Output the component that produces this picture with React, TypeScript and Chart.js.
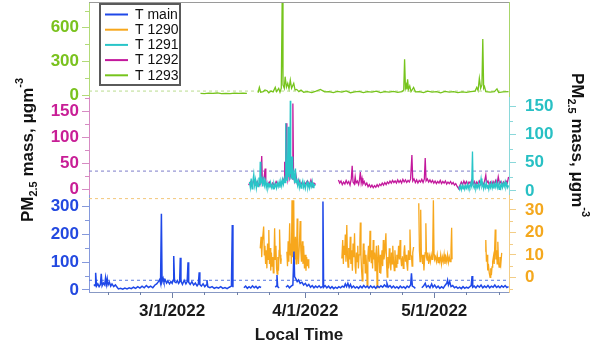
import React, { useEffect, useRef } from 'react';
import { Chart, registerables } from 'chart.js';

Chart.register(...registerables);

const FONT = "'Liberation Sans', Arial, Helvetica, sans-serif";

// x values are days counted from 3/1/2022
const xMin = -19.35;
const xMax = 78.4;
const majorDays = [0, 31, 61];
const majorLabels = ['3/1/2022', '4/1/2022', '5/1/2022'];
const minorDays = [-15, -7.5, 7.5, 15, 22.5, 38.5, 46, 53.5, 68.5, 76];
const threshold = 35;

const seriesLabels = ['T main', 'T 1290', 'T 1291', 'T 1292', 'T 1293'];

// y tick values
const greenMajor = [0, 300, 600];
const greenMinor = [150, 450, 750];
const magentaMajor = [0, 50, 100, 150];
const magentaMinor = [25, 75, 125, 175];
const blueMajor = [0, 100, 200, 300];
const blueMinor = [50, 150, 250];
const cyanMajor = [0, 50, 100, 150];
const cyanMinor = [25, 75, 125];
const orangeMajor = [0, 10, 20, 30];
const orangeMinor = [-5, 5, 15, 25, 35];

type Pt = [number, number | null];

const tMain: Pt[] = [
  [-18.2, 20], [-17.95, 15], [-17.8, 62], [-17.6, 14], [-17.3, 22], [-17.0, 12], [-16.7, 20], [-16.5, 58], [-16.3, 15],
  [-16.0, 25], [-15.7, 18], [-15.5, 44], [-15.3, 20], [-15.1, 40], [-14.9, 18], [-14.6, 28], [-14.3, 14], [-14.0, 22],
  [-13.6, 12], [-13.2, 18], [-12.8, 10], [-12.5, 4], [-12.0, 6], [-11.5, 3], [-11.0, 7], [-10.5, 4], [-10.0, 8], [-9.5, 5],
  [-9.0, 10], [-8.5, 6], [-8.0, 12], [-7.5, 7], [-7.0, 14], [-6.5, 8], [-6.0, 16], [-5.5, 9], [-5.0, 14], [-4.5, 8],
  [-4.0, 18], [-3.6, 22], [-3.2, 30], [-2.9, 38], [-2.7, 25], [-2.5, 274], [-2.35, 30], [-2.1, 42], [-1.9, 28], [-1.6, 36],
  [-1.3, 25], [-1.0, 32], [-0.6, 22], [-0.3, 30], [0.0, 24], [0.2, 35], [0.37, 122], [0.55, 30], [0.9, 26], [1.2, 34],
  [1.5, 24], [1.75, 30], [1.9, 116], [2.05, 32], [2.4, 20], [2.8, 35], [3.2, 22], [3.5, 30], [3.7, 100], [3.85, 28],
  [4.2, 20], [4.6, 30], [5.0, 18], [5.4, 25], [5.8, 15], [6.1, 22], [6.3, 64], [6.45, 20], [6.8, 14], [7.2, 22], [7.6, 12],
  [7.9, 18], [8.1, 36], [8.3, 12], [8.8, 8], [9.3, 12], [9.8, 6], [10.3, 10], [10.8, 7], [11.3, 12], [11.8, 6], [12.3, 9],
  [12.8, 5], [13.3, 10], [13.8, 14], [14.0, 234], [14.15, 10], [14.3, null],
  [16.7, 8], [17.1, 14], [17.5, 6], [17.9, 12], [18.3, 7], [18.7, 15], [19.1, 8], [19.5, 13], [19.9, 6], [20.3, 12],
  [20.7, 9], [20.8, null],
  [24.0, 10], [24.25, 14], [24.4, 54], [24.55, 12], [24.9, 8], [25.0, null],
  [26.5, 10], [26.9, 16], [27.3, 8], [27.7, 14], [28.1, 18], [28.35, 138], [28.5, 48], [28.8, 40], [29.1, 30], [29.4, 36],
  [29.8, 24], [30.2, 28], [30.6, 18], [31.0, 24], [31.4, 14], [31.8, 20], [32.2, 10], [32.6, 16], [33.0, 8], [33.4, 14],
  [33.8, 9], [34.2, 15], [34.6, 8], [34.9, 12], [35.1, 318], [35.25, 10], [35.6, 16], [36.0, 8], [36.4, 14], [36.8, 6],
  [37.2, 12], [37.6, 5], [38.0, 10], [38.4, 6], [38.8, 12], [39.2, 8], [39.6, 14], [40.0, 10], [40.3, 22], [40.6, 12],
  [40.9, 24], [41.2, 10], [41.5, 20], [41.8, 8], [42.2, 14], [42.6, 7], [43.0, 12], [43.4, 6], [43.8, 14], [44.2, 8],
  [44.6, 16], [45.0, 9], [45.4, 14], [45.8, 7], [46.2, 15], [46.6, 8], [47.0, 13], [47.4, 6], [47.8, 14], [48.2, 9],
  [48.6, 15], [49.0, 10], [49.4, 18], [49.8, 12], [50.0, 24], [50.3, 10], [50.7, 16], [51.1, 8], [51.5, 14], [51.9, 7],
  [52.3, 12], [52.7, 6], [53.1, 14], [53.5, 8], [53.9, 12], [54.3, 6], [54.7, 14], [55.1, 9], [55.5, 18], [55.7, 60],
  [55.9, 14], [56.3, 10], [56.6, 6], [56.7, null],
  [58.1, 8], [58.5, 14], [58.9, 24], [59.2, 10], [59.6, 16], [60.0, 8], [60.4, 22], [60.7, 10], [61.1, 18], [61.5, 8],
  [61.9, 14], [62.3, 6], [62.7, 12], [63.1, 7], [63.5, 16], [63.9, 24], [64.1, 36], [64.3, 18], [64.6, 30], [64.9, 12],
  [65.3, 16], [65.7, 8], [66.1, 12], [66.5, 6], [66.9, 10], [67.3, 5], [67.7, 12], [68.1, 6], [68.5, 10], [68.9, 7],
  [69.3, 12], [69.6, 16], [69.8, 50], [69.95, 10], [70.3, 14], [70.7, 8], [71.1, 16], [71.5, 10], [71.9, 18], [72.3, 8],
  [72.7, 14], [73.1, 9], [73.5, 16], [73.9, 8], [74.3, 14], [74.7, 10], [75.1, 18], [75.5, 9], [75.9, 14], [76.3, 8],
  [76.7, 15], [77.1, 10], [77.5, 16], [77.9, 9], [78.3, 12],
];

const t1290: Pt[] = [
  [20.5, 12.9], [20.7, 18], [20.85, 9], [21.0, 16], [21.3, 22.6], [21.45, 10], [21.6, 14], [21.75, 6], [21.9, 12],
  [22.05, 4], [22.2, 15], [22.35, 8], [22.5, 21], [22.65, 6], [22.8, 13], [22.95, 3], [23.1, 11], [23.25, 5], [23.4, 9],
  [23.55, 2], [23.7, 7], [23.85, 21.8], [24.0, 8], [24.15, 14], [24.3, 4], [24.45, 1.5], [24.6, 9], [24.75, 3], [24.9, 12],
  [25.0, 21.3], [25.15, 10], [25.3, 6], [25.4, 8.4], [25.5, null],
  [26.7, 11.4], [26.85, 5], [27.0, 16], [27.15, 7], [27.35, 24], [27.5, 10], [27.6, 15], [27.75, 6], [27.9, 34.3],
  [28.0, 14], [28.1, 9], [28.2, 20], [28.3, 34.3], [28.4, 12], [28.55, 8], [28.7, 18], [28.85, 6], [29.0, 14], [29.1, 26.2],
  [29.25, 10], [29.4, 6], [29.6, 14], [29.8, 25], [29.95, 12], [30.1, 7], [30.3, 16], [30.45, 6], [30.6, 14], [30.8, 4],
  [31.0, 10], [31.15, 3], [31.3, 9], [31.5, 5], [31.65, 8], [31.8, 4], [31.9, null],
  [39.5, 8.4], [39.7, 16.6], [39.85, 6], [40.0, 14], [40.15, 10], [40.3, 19], [40.45, 7], [40.65, 23.3], [40.8, 9],
  [40.95, 4.6], [41.1, 13], [41.3, 8], [41.45, 18], [41.6, 6], [41.8, 12], [41.95, 3], [42.1, 15], [42.3, 9], [42.45, 19.6],
  [42.6, 5], [42.75, 1.6], [42.9, 11], [43.05, 7], [43.2, 14], [43.35, 4], [43.5, 10], [43.7, 16], [43.8, 24.4], [43.95, 9.4],
  [44.1, 3], [44.25, -1.5], [44.4, 8], [44.5, 15], [44.65, 6], [44.8, 12], [44.95, 2], [45.1, 10], [45.25, 5], [45.4, -3.8],
  [45.55, 9], [45.7, 14], [45.9, 7], [46.05, 20.7], [46.2, 10], [46.35, 6.6], [46.5, 12], [46.65, 4], [46.8, 16.6], [46.95, 8],
  [47.1, 11], [47.25, 3], [47.4, 9], [47.55, 14], [47.7, -4.5], [47.85, 6], [48.0, 14.3], [48.15, 8], [48.3, 2], [48.45, 10],
  [48.55, 1.6], [48.7, 7], [48.85, 12], [49.0, 5], [49.15, 16.6], [49.3, 8], [49.5, 11], [49.75, 19.6], [49.9, 6], [50.05, 0.1],
  [50.2, 9], [50.35, 4], [50.55, 12.9], [50.7, 7], [50.9, 3.1], [51.05, 11], [51.2, 6], [51.35, 14], [51.5, 8], [51.7, 3],
  [51.85, 12], [52.0, 7], [52.15, 4.6], [52.3, 10], [52.5, 6], [52.7, 14], [52.9, 8], [53.05, 16.6], [53.2, 9], [53.4, 5],
  [53.6, 9.4], [53.8, 4], [53.95, 11], [54.1, 14.3], [54.3, 7], [54.5, 10], [54.6, 6.6], [54.8, 3], [55.0, 12], [55.2, 8],
  [55.35, 21.3], [55.5, 10], [55.7, 9.4], [55.85, 5], [56.0, 11], [56.2, 13.5], [56.3, null],
  [57.4, 32.9], [57.55, 12], [57.7, 7], [57.85, 30], [58.0, 10], [58.15, 9.4], [58.3, 6], [58.45, 10], [58.6, 3.1],
  [58.75, 8], [58.9, 11], [59.05, 24], [59.2, 9], [59.35, 7.7], [59.5, 11], [59.7, 6], [59.9, 9.4], [60.1, 7], [60.3, 10],
  [60.5, 8], [60.65, 12], [60.8, 34.3], [60.95, 10.2], [61.1, 8], [61.3, 9], [61.5, 7], [61.7, 10], [61.9, 6.6], [62.1, 9],
  [62.3, 7], [62.5, 10], [62.7, 6], [62.9, 9], [63.1, 7], [63.3, 10.2], [63.5, 6], [63.7, 9], [63.9, 7], [64.1, 10],
  [64.3, 6.6], [64.5, 9], [64.7, 7], [64.9, 12], [65.05, 22], [65.15, 8], [65.25, null],
  [72.9, 11.4], [73.0, 16.6], [73.15, 7], [73.3, 10], [73.45, 3.1], [73.6, 6], [73.8, 2], [74.0, 0], [74.15, 4], [74.3, 1],
  [74.45, 4.6], [74.6, 7], [74.8, 9.4], [74.95, 6], [75.2, 21.3], [75.35, 8], [75.5, 12], [75.65, 6], [75.8, 15.8],
  [75.95, 7], [76.1, 4.6], [76.3, 9], [76.5, 6], [76.7, 10.9],
];

const t1291: Pt[] = [
  [18.0, 16], [18.2, 6], [18.4, 22], [18.6, 4], [18.8, 18], [19.0, 30], [19.2, 10], [19.4, 20], [19.6, 5], [19.8, 16],
  [20.0, 8], [20.2, 24], [20.4, 12], [20.5, 52], [20.65, 15], [20.9, 22], [21.1, 8], [21.3, 25], [21.5, 10], [21.7, 18],
  [21.9, 6], [22.1, 14], [22.3, 5], [22.5, 12], [22.7, 8], [22.9, 15], [23.1, 6], [23.3, 11], [23.5, 4], [23.7, 13],
  [23.9, 7], [24.1, 12], [24.3, 5], [24.5, 14], [24.7, 8], [24.9, 16], [25.1, 6], [25.3, 18], [25.5, 9], [25.7, 20],
  [25.9, 12], [26.1, 22], [26.3, 15], [26.45, 120], [26.6, 30], [26.8, 18], [27.0, 114], [27.15, 25], [27.3, 46],
  [27.4, 20], [27.5, 160], [27.6, 30], [27.7, 51], [27.8, 22], [27.9, 61], [28.05, 20], [28.3, 32], [28.5, 14], [28.7, 40],
  [28.85, 15], [29.0, 22], [29.2, 10], [29.4, 18], [29.6, 6], [29.8, 15], [30.0, 5], [30.2, 12], [30.4, 18], [30.6, 7],
  [30.8, 14], [31.0, 4], [31.2, 11], [31.4, 16], [31.6, 6], [31.8, 13], [32.0, 5], [32.2, 14], [32.4, 8], [32.6, 17],
  [32.8, 6], [33.0, 12], [33.3, 9], [33.4, null],
  [66.7, 8], [66.9, 3], [67.1, 9], [67.3, 2], [67.5, 10], [67.7, 4], [67.9, 11], [68.1, 3], [68.3, 9], [68.5, 5],
  [68.7, 12], [68.9, 4], [69.1, 10], [69.3, 6], [69.5, 13], [69.7, 8], [69.9, 70], [70.05, 10], [70.3, 5], [70.5, 12],
  [70.7, 4], [70.9, 10], [71.1, 6], [71.3, 14], [71.5, 5], [71.7, 11], [71.9, 22], [72.1, 8], [72.3, 13], [72.5, 4],
  [72.7, 12], [72.9, 6], [73.1, 15], [73.3, 5], [73.5, 11], [73.7, 3], [73.9, 12], [74.1, 6], [74.3, 14], [74.5, 5],
  [74.7, 12], [74.9, 4], [75.1, 13], [75.3, 7], [75.5, 16], [75.7, 6], [75.9, 12], [76.1, 3], [76.3, 11], [76.5, 5],
  [76.7, 14], [76.9, 6], [77.1, 13], [77.3, 8], [77.5, 16], [77.7, 7], [77.9, 13], [78.1, 6], [78.3, 10],
];

const t1292: Pt[] = [
  [17.8, 8], [18.2, 14], [18.6, 6], [19.0, 18], [19.4, 9], [19.8, 15], [20.2, 7], [20.6, 12], [20.85, 64], [21.0, 10],
  [21.3, 16], [21.65, 40], [21.8, 12], [22.2, 8], [22.6, 14], [23.0, 6], [23.4, 12], [23.8, 7], [24.2, 15], [24.6, 9],
  [25.0, 13], [25.4, 8], [25.8, 20], [26.1, 14], [26.2, 53], [26.35, 15], [26.55, 127], [26.7, 30], [26.9, 18], [27.2, 40],
  [27.4, 22], [27.7, 30], [27.95, 20], [28.1, 165], [28.25, 25], [28.5, 15], [28.8, 28], [29.1, 12], [29.5, 18], [29.9, 8],
  [30.3, 14], [30.7, 6], [31.1, 12], [31.5, 16], [31.9, 8], [32.3, 18], [32.7, 6], [33.0, 12], [33.4, 9], [33.5, null],
  [38.7, 18], [39.0, 12], [39.3, 16], [39.6, 9], [39.9, 14], [40.2, 10], [40.5, 17], [40.8, 11], [41.1, 15], [41.4, 8],
  [41.7, 20], [41.9, 45], [42.1, 14], [42.4, 10], [42.6, 24], [42.8, 12], [43.1, 16], [43.4, 9], [43.6, 18], [43.8, 33],
  [44.0, 12], [44.2, 21], [44.4, 10], [44.7, 15], [45.0, 8], [45.3, 12], [45.6, 5], [45.9, 9], [46.2, 4], [46.5, 8],
  [46.8, 3], [47.1, 7], [47.4, 4], [47.7, 9], [48.0, 5], [48.3, 10], [48.6, 7], [48.9, 12], [49.2, 8], [49.5, 13],
  [49.8, 9], [50.1, 14], [50.4, 11], [50.7, 16], [51.0, 12], [51.3, 17], [51.6, 13], [51.9, 16], [52.2, 12], [52.5, 18],
  [52.8, 13], [53.1, 17], [53.4, 12], [53.7, 19], [54.0, 14], [54.3, 18], [54.6, 13], [54.9, 17], [55.2, 14], [55.5, 20],
  [55.8, 66], [56.0, 16], [56.3, 20], [56.6, 13], [56.9, 18], [57.2, 12], [57.5, 17], [57.8, 14], [58.1, 19], [58.4, 13],
  [58.7, 20], [58.9, 60], [59.1, 16], [59.4, 20], [59.7, 14], [60.0, 18], [60.3, 13], [60.6, 17], [60.9, 12], [61.2, 16],
  [61.5, 11], [61.8, 15], [62.1, 12], [62.4, 17], [62.7, 11], [63.0, 15], [63.3, 12], [63.6, 16], [63.9, 10], [64.2, 14],
  [64.5, 11], [64.8, 15], [65.1, 10], [65.4, 13], [65.7, 8], [66.0, 11], [66.3, 6], [66.7, 1], [67.0, 8], [67.3, 14],
  [67.6, 9], [67.9, 16], [68.2, 10], [68.5, 15], [68.8, 9], [69.1, 14], [69.4, 11], [69.7, 17], [70.0, 10], [70.3, 15],
  [70.6, 8], [70.9, 14], [71.2, 10], [71.5, 16], [71.8, 9], [72.1, 13], [72.4, 8], [72.7, 15], [73.0, 27], [73.2, 12],
  [73.5, 16], [73.8, 9], [74.1, 14], [74.4, 8], [74.7, 15], [75.0, 10], [75.3, 17], [75.6, 9], [75.9, 24], [76.2, 11],
  [76.5, 15], [76.8, 8], [77.1, 14], [77.4, 10], [77.7, 16], [78.0, 12], [78.3, 24],
];

const t1293: Pt[] = [
  [6.6, 15], [7.5, 12], [8.5, 16], [9.5, 14], [10.5, 18], [11.5, 13], [12.5, 15], [13.5, 12], [14.5, 17], [15.5, 14],
  [16.5, 16], [17.4, 15], [17.5, null],
  [20.0, 20], [20.3, 68], [20.6, 25], [21.2, 30], [21.6, 45], [22.1, 38], [22.5, 20], [23.0, 35], [23.5, 28], [24.0, 68],
  [24.3, 30], [24.8, 58], [25.1, 25], [25.4, 60], [25.6, 820], [25.8, 90], [26.1, 60], [26.3, 163], [26.6, 70], [26.9, 104],
  [27.2, 55], [27.5, 133], [27.8, 60], [28.3, 104], [28.6, 45], [29.0, 50], [29.5, 30], [30.0, 44], [30.6, 25], [31.5, 30],
  [32.5, 22], [33.5, 35], [34.5, 50], [35.5, 28], [36.5, 30], [37.5, 22], [38.5, 32], [39.5, 25], [40.5, 36], [41.5, 20],
  [42.5, 28], [43.5, 33], [44.5, 22], [45.5, 30], [46.5, 25], [47.5, 35], [48.5, 22], [49.5, 30], [50.5, 26], [51.5, 32],
  [52.5, 24], [53.5, 30], [53.9, 45], [54.1, 318], [54.3, 60], [54.5, 89], [54.65, 50], [54.8, 140], [55.0, 50], [55.3, 80],
  [55.6, 30], [56.2, 68], [56.6, 28], [57.5, 30], [58.5, 22], [59.5, 35], [60.5, 25], [61.5, 30], [62.5, 20], [63.5, 32],
  [64.5, 25], [65.5, 30], [66.5, 22], [67.5, 28], [68.5, 24], [69.5, 30], [70.5, 35], [70.9, 68], [71.2, 40], [71.5, 148],
  [71.8, 60], [72.1, 90], [72.3, 498], [72.5, 60], [72.7, 75], [73.0, 30], [74.0, 25], [75.0, 30], [75.6, 55], [76.0, 22],
  [77.0, 28], [78.3, 30],
];

const seriesData: Pt[][] = [tMain, t1290, t1291, t1292, t1293];
const seriesColors = ['#1f48e8', '#f7a71c', '#29c5c8', '#c3189c', '#76c41c'];
const seriesAxes = ['yB', 'yO', 'yC', 'yM', 'yG'];

const minorByScale: Record<string, number[]> = {
  yG: greenMinor, yM: magentaMinor, yB: blueMinor, yC: cyanMinor, yO: orangeMinor, x: minorDays,
};

function yAxis(position: 'left' | 'right', stackWeight: number, weight: number, min: number, max: number,
  majors: number[], labelColor: string, lineColor: string, showTicks = true) {
  return {
    type: 'linear',
    position,
    stack: position === 'left' ? 'L' : 'R',
    stackWeight,
    weight,
    min,
    max,
    afterBuildTicks: (s: any) => { s.ticks = majors.map((v) => ({ value: v })); },
    afterFit: (s: any) => {
      s.width = position === 'left' ? 89 : 86;
      s.paddingTop = 0;
      s.paddingBottom = 0;
      s.paddingLeft = 0;
      s.paddingRight = 0;
    },
    ticks: {
      display: showTicks,
      autoSkip: false,
      callback: (v: any) => String(v),
      font: { family: FONT, size: 17, weight: 'bold' },
      color: labelColor,
      padding: position === 'left' ? 3 : 9,
    },
    grid: { display: showTicks, drawOnChartArea: false, tickLength: 7, color: lineColor, lineWidth: 1 },
    border: { display: true, color: lineColor, width: 1 },
  };
}

function drawTitle(ctx: CanvasRenderingContext2D, cx: number, cy: number, angle: number) {
  const big = `bold 17px ${FONT}`;
  const small = `bold 11px ${FONT}`;
  const parts = [
    { t: 'PM', f: big, dy: 0 },
    { t: '2.5', f: small, dy: 4 },
    { t: ' mass, \u03bcgm', f: big, dy: 0 },
    { t: '-3', f: small, dy: -10 },
  ];
  ctx.save();
  ctx.translate(cx, cy);
  ctx.rotate(angle);
  ctx.textAlign = 'left';
  ctx.textBaseline = 'alphabetic';
  ctx.fillStyle = '#111';
  let total = 0;
  for (const p of parts) { ctx.font = p.f; total += ctx.measureText(p.t).width; }
  let x = -total / 2;
  for (const p of parts) {
    ctx.font = p.f;
    ctx.fillText(p.t, x, p.dy);
    x += ctx.measureText(p.t).width;
  }
  ctx.restore();
}

const decorPlugin = {
  id: 'decor',
  afterDraw(chart: any) {
    const { ctx, chartArea, scales } = chart;
    ctx.save();
    ctx.strokeStyle = '#9a9a9a';
    ctx.lineWidth = 1;
    ctx.beginPath();
    ctx.moveTo(chartArea.left, chartArea.top + 0.5);
    ctx.lineTo(chartArea.right, chartArea.top + 0.5);
    ctx.stroke();
    for (const id of Object.keys(minorByScale)) {
      const s = scales[id];
      if (!s) continue;
      ctx.strokeStyle = id === 'x' ? '#6e7fa6' : s.options.border.color;
      ctx.beginPath();
      for (const v of minorByScale[id]) {
        if (v < s.min || v > s.max) continue;
        const p = Math.round(s.getPixelForValue(v)) + 0.5;
        if (id === 'x') { ctx.moveTo(p, s.top); ctx.lineTo(p, s.top + 3); }
        else if (s.position === 'left') { ctx.moveTo(s.right, p); ctx.lineTo(s.right - 4, p); }
        else { ctx.moveTo(s.left, p); ctx.lineTo(s.left + 4, p); }
      }
      ctx.stroke();
    }
    drawTitle(ctx, 33, 150, -Math.PI / 2);
    drawTitle(ctx, 572, 145, Math.PI / 2);
    const lx = 100, ly = 4, lw = 80, lh = 81;
    ctx.fillStyle = '#fff';
    ctx.fillRect(lx, ly, lw, lh);
    ctx.strokeStyle = '#5a5a5a';
    ctx.lineWidth = 2;
    ctx.strokeRect(lx, ly, lw, lh);
    ctx.font = `14px ${FONT}`;
    ctx.textBaseline = 'middle';
    ctx.textAlign = 'left';
    chart.data.datasets.forEach((ds: any, i: number) => {
      if (!seriesLabels.includes(ds.label)) return;
      const y = ly + 10.5 + i * 15.2;
      ctx.strokeStyle = ds.borderColor;
      ctx.lineWidth = 2;
      ctx.beginPath();
      ctx.moveTo(lx + 5, y);
      ctx.lineTo(lx + 28, y);
      ctx.stroke();
      ctx.fillStyle = '#111';
      ctx.fillText(ds.label, lx + 35, y + 0.5);
    });
    ctx.restore();
  },
};

export default function App() {
  const ref = useRef<HTMLCanvasElement | null>(null);
  useEffect(() => {
    if (!ref.current) return;
    const dataSets: any[] = seriesLabels.map((label, i) => ({
      label,
      data: seriesData[i].map(([x, y]) => ({ x, y })),
      borderColor: seriesColors[i],
      backgroundColor: seriesColors[i],
      borderWidth: i === 0 ? 1.5 : 1.3,
      pointRadius: 0,
      tension: 0,
      spanGaps: false,
      yAxisID: seriesAxes[i],
    }));
    const thresholdLines = [
      { axis: 'yG', color: '#b9dc8e' },
      { axis: 'yM', color: '#7d7dc9' },
      { axis: 'yO', color: '#f3c77a' },
      { axis: 'yB', color: '#5576e2' },
    ];
    thresholdLines.forEach((t) => {
      dataSets.push({
        label: 'threshold',
        data: [{ x: xMin, y: threshold }, { x: xMax, y: threshold }],
        borderColor: t.color,
        borderWidth: 1,
        borderDash: [3, 3],
        pointRadius: 0,
        yAxisID: t.axis,
      });
    });
    const chart = new Chart(ref.current, {
      type: 'line',
      data: { datasets: dataSets },
      plugins: [decorPlugin],
      options: {
        responsive: false,
        maintainAspectRatio: false,
        animation: false,
        devicePixelRatio: 1,
        layout: { padding: { top: 2, left: 0, right: 0, bottom: 0 } },
        plugins: { legend: { display: false }, tooltip: { enabled: false } },
        scales: {
          x: {
            type: 'linear',
            position: 'bottom',
            min: xMin,
            max: xMax,
            afterBuildTicks: (s: any) => { s.ticks = majorDays.map((v) => ({ value: v })); },
            afterFit: (s: any) => {
              s.height = 58;
              s.paddingLeft = 0;
              s.paddingRight = 0;
              s.paddingTop = 0;
              s.paddingBottom = 0;
            },
            ticks: {
              callback: (v: any) => { const k = majorDays.indexOf(v); return k >= 0 ? majorLabels[k] : ''; },
              font: { family: FONT, size: 17, weight: 'bold' },
              color: '#1a1a1a',
              padding: 3,
              maxRotation: 0,
              autoSkip: false,
            },
            grid: { drawOnChartArea: false, tickLength: 6, color: '#6e7fa6' },
            border: { display: true, color: '#8899c4', width: 1 },
            title: {
              display: true,
              text: 'Local Time',
              font: { family: FONT, size: 17, weight: 'bold' },
              color: '#1a1a1a',
              padding: { top: 0, bottom: 4 },
            },
          },
          yG: yAxis('left', 95, 3, -17.8, 828, greenMajor, '#7ac21e', '#b2da78'),
          yM: yAxis('left', 98, 2, -11, 177.5, magentaMajor, '#c81e96', '#d78bc3'),
          yB: yAxis('left', 97, 1, -7.2, 341.7, blueMajor, '#2349e0', '#8599dc'),
          yGR: yAxis('right', 95, 1, -17.8, 828, greenMajor, '#7ac21e', '#a8d66a', false),
          yC: yAxis('right', 98, 2, -7.1, 166.7, cyanMajor, '#28c0c4', '#8ad8da'),
          yO: yAxis('right', 97, 3, -6.5, 36.6, orangeMajor, '#f4a81e', '#f3cd86'),
        } as any,
      },
    } as any);
    return () => chart.destroy();
  }, []);
  return (
    <div style={{ position: 'fixed', left: 0, top: 0, width: 595, height: 350, background: '#fff' }}>
      <canvas ref={ref} width={595} height={350} style={{ display: 'block' }} />
    </div>
  );
}
